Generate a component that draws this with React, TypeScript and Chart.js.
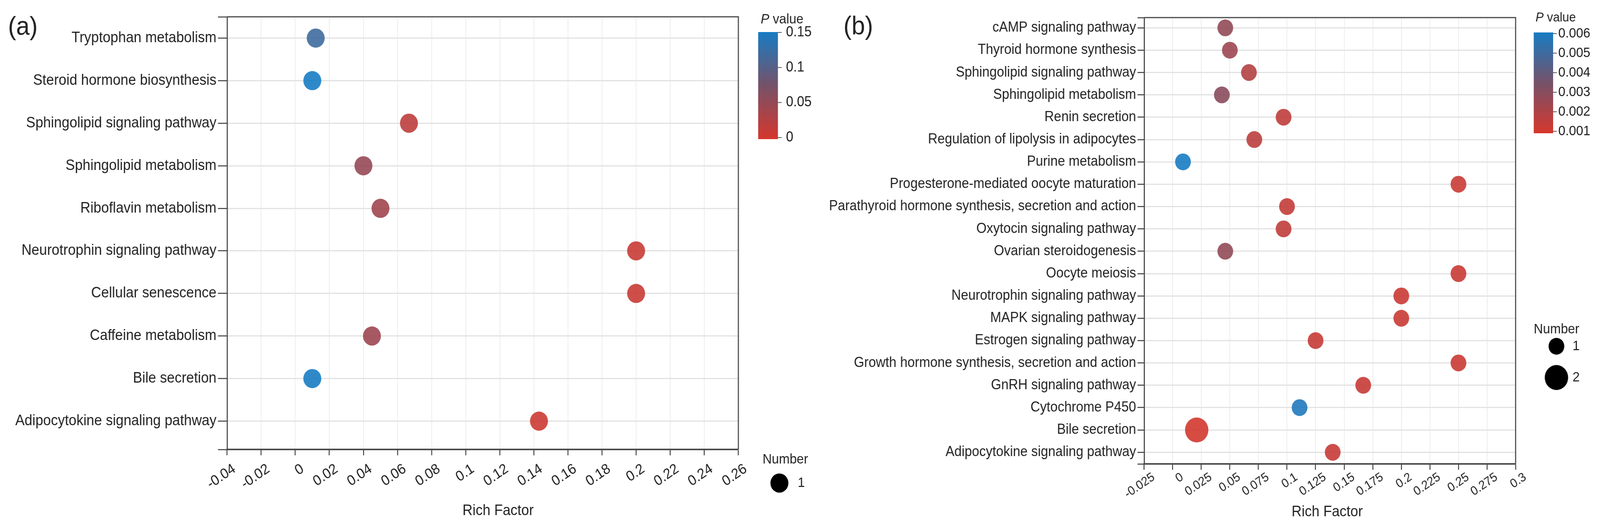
import React, { useEffect, useRef } from 'react';
import { Chart, registerables } from 'chart.js';

Chart.register(...registerables);

const FONT = '"Liberation Sans", Arial, Helvetica, sans-serif';
const TEXT = '#222222';
const AXIS = '#4a4a4a';

// ---------- Panel (a) data ----------
const categoriesA = [
  'Tryptophan metabolism',
  'Steroid hormone biosynthesis',
  'Sphingolipid signaling pathway',
  'Sphingolipid metabolism',
  'Riboflavin metabolism',
  'Neurotrophin signaling pathway',
  'Cellular senescence',
  'Caffeine metabolism',
  'Bile secretion',
  'Adipocytokine signaling pathway',
];
const richFactorA = [0.012, 0.01, 0.0667, 0.04, 0.05, 0.2, 0.2, 0.045, 0.01, 0.143];
const pValueA = [0.12, 0.15, 0.02, 0.05, 0.042, 0.01, 0.01, 0.045, 0.15, 0.008];
const numberA = [1, 1, 1, 1, 1, 1, 1, 1, 1, 1];
const xTicksA = [-0.04, -0.02, 0, 0.02, 0.04, 0.06, 0.08, 0.1, 0.12, 0.14, 0.16, 0.18, 0.2, 0.22, 0.24, 0.26];
const pTicksA = [0, 0.05, 0.1, 0.15];
const sizeTicksA = [1];

// ---------- Panel (b) data ----------
const categoriesB = [
  'cAMP signaling pathway',
  'Thyroid hormone synthesis',
  'Sphingolipid signaling pathway',
  'Sphingolipid metabolism',
  'Renin secretion',
  'Regulation of lipolysis in adipocytes',
  'Purine metabolism',
  'Progesterone-mediated oocyte maturation',
  'Parathyroid hormone synthesis, secretion and action',
  'Oxytocin signaling pathway',
  'Ovarian steroidogenesis',
  'Oocyte meiosis',
  'Neurotrophin signaling pathway',
  'MAPK signaling pathway',
  'Estrogen signaling pathway',
  'Growth hormone synthesis, secretion and action',
  'GnRH signaling pathway',
  'Cytochrome P450',
  'Bile secretion',
  'Adipocytokine signaling pathway',
];
const richFactorB = [0.046, 0.05, 0.0667, 0.043, 0.097, 0.0714, 0.009, 0.25, 0.1, 0.097, 0.046, 0.25, 0.2, 0.2, 0.125, 0.25, 0.1667, 0.111, 0.021, 0.14];
const pValueB = [0.0028, 0.0025, 0.0019, 0.003, 0.0016, 0.0017, 0.006, 0.00135, 0.0015, 0.0016, 0.0028, 0.0013, 0.0013, 0.0013, 0.0014, 0.0013, 0.0014, 0.0058, 0.0011, 0.0014];
const numberB = [1, 1, 1, 1, 1, 1, 1, 1, 1, 1, 1, 1, 1, 1, 1, 1, 1, 1, 2, 1];
const xTicksB = [-0.025, 0, 0.025, 0.05, 0.075, 0.1, 0.125, 0.15, 0.175, 0.2, 0.225, 0.25, 0.275, 0.3];
const pTicksB = [0.001, 0.002, 0.003, 0.004, 0.005, 0.006];
const sizeTicksB = [1, 2];

const X_TITLE = 'Rich Factor';

// ---------- colour scale ----------
const LOW = [214, 55, 45];
const MID = [118, 82, 105];
const HIGH = [24, 124, 195];

function mix(a: number[], b: number[], u: number) {
  return a.map((v, i) => Math.round(v + (b[i] - v) * u));
}
function scaleColor(t: number, alpha = 1) {
  const tt = Math.max(0, Math.min(1, t));
  const c = tt < 0.5 ? mix(LOW, MID, tt * 2) : mix(MID, HIGH, (tt - 0.5) * 2);
  return `rgba(${c[0]},${c[1]},${c[2]},${alpha})`;
}
function colorFor(p: number, ticks: number[]) {
  const lo = ticks[0];
  const hi = ticks[ticks.length - 1];
  return scaleColor((p - lo) / (hi - lo), 0.9);
}

const radiusA = (n: number) => 24.5 * Math.pow(n, 0.57);
const radiusB = (n: number) => 21.5 * Math.pow(n, 0.57);

const fmt = (v: number) => String(+Number(v).toFixed(3));

// ---------- drawing helpers (decoration) ----------
function font(size: number, style = '') {
  return `${style} ${size}px ${FONT}`.trim();
}

function drawFrame(ctx: CanvasRenderingContext2D, area: any) {
  ctx.save();
  ctx.strokeStyle = AXIS;
  ctx.lineWidth = 3;
  ctx.beginPath();
  ctx.moveTo(area.left, area.top);
  ctx.lineTo(area.right, area.top);
  ctx.lineTo(area.right, area.bottom);
  ctx.stroke();
  ctx.restore();
}

function drawText(ctx: CanvasRenderingContext2D, text: string, x: number, y: number, size: number, align: CanvasTextAlign, baseline: CanvasTextBaseline) {
  ctx.save();
  ctx.fillStyle = TEXT;
  ctx.font = font(size);
  ctx.textBaseline = baseline;
  ctx.textAlign = align;
  ctx.fillText(text, x, y);
  ctx.restore();
}

function drawColorbar(ctx: CanvasRenderingContext2D, o: any) {
  const { x, w, top, bottom, yHi, yLo, ticks, labelX, size, titleX, titleY, titleSize } = o;
  ctx.save();
  ctx.fillStyle = TEXT;
  ctx.textBaseline = 'middle';
  ctx.textAlign = 'left';
  ctx.font = font(titleSize, 'italic');
  ctx.fillText('P', titleX, titleY);
  const pw = ctx.measureText('P').width;
  ctx.font = font(titleSize);
  ctx.fillText(' value', titleX + pw, titleY);
  const g = ctx.createLinearGradient(0, bottom, 0, top);
  g.addColorStop(0, scaleColor(0));
  g.addColorStop(0.5, scaleColor(0.5));
  g.addColorStop(1, scaleColor(1));
  ctx.fillStyle = g;
  ctx.fillRect(x, top, w, bottom - top);
  const lo = ticks[0];
  const hi = ticks[ticks.length - 1];
  ctx.strokeStyle = '#555';
  ctx.lineWidth = 2;
  ctx.fillStyle = TEXT;
  ctx.font = font(size);
  ticks.forEach((v: number) => {
    const y = yLo + ((v - lo) / (hi - lo)) * (yHi - yLo);
    ctx.beginPath();
    ctx.moveTo(x + w, y);
    ctx.lineTo(x + w + 10, y);
    ctx.stroke();
    ctx.fillText(fmt(v), labelX, y);
  });
  ctx.restore();
}

function drawSizeLegend(ctx: CanvasRenderingContext2D, o: any) {
  const { titleX, titleY, size, cx, items, labelX } = o;
  ctx.save();
  ctx.fillStyle = TEXT;
  ctx.textBaseline = 'middle';
  ctx.textAlign = 'left';
  ctx.font = font(size);
  ctx.fillText('Number', titleX, titleY);
  items.forEach((it: any) => {
    ctx.fillStyle = '#000';
    ctx.beginPath();
    ctx.arc(cx, it.y, it.r, 0, Math.PI * 2);
    ctx.fill();
    ctx.fillStyle = TEXT;
    ctx.fillText(String(it.n), labelX, it.y);
  });
  ctx.restore();
}

// ---------- chart config builder ----------
function buildConfig(p: any) {
  const { cats, xs, ps, ns, pTicks, xTicks, xMin, xMax, yMin, yMax, radius, yWidth, xHeight, padding, tickLen, catSize, xTickSize, rot, labelOffset, labelPad, deco } = p;
  return {
    type: 'scatter',
    data: {
      datasets: [
        {
          data: xs.map((x: number, i: number) => ({ x, y: i })),
          pointRadius: ns.map((n: number) => radius(n)),
          pointHoverRadius: ns.map((n: number) => radius(n)),
          backgroundColor: ps.map((v: number) => colorFor(v, pTicks)),
          borderWidth: 0,
          pointBorderWidth: 0,
        },
      ],
    },
    options: {
      responsive: false,
      devicePixelRatio: 1,
      animation: false,
      events: [],
      layout: { padding },
      plugins: { legend: { display: false }, tooltip: { enabled: false } },
      scales: {
        x: {
          type: 'linear',
          min: xMin,
          max: xMax,
          afterBuildTicks: (s: any) => {
            s.ticks = xTicks.map((v: number) => ({ value: v }));
          },
          afterFit: (s: any) => {
            s.height = xHeight;
          },
          ticks: {
            autoSkip: false,
            minRotation: rot,
            maxRotation: rot,
            padding: labelPad,
            labelOffset,
            color: TEXT,
            font: { family: FONT, size: xTickSize },
            callback: (v: number) => fmt(v),
          },
          grid: {
            color: '#e6e6e6',
            lineWidth: 1.5,
            tickLength: 15,
            tickColor: '#3a3a3a',
            tickWidth: 2.5,
          },
          border: { display: true, color: AXIS, width: 4 },
          title: { display: false },
        },
        y: {
          type: 'linear',
          reverse: true,
          min: yMin,
          max: yMax,
          afterBuildTicks: (s: any) => {
            s.ticks = [yMin, ...cats.map((_: string, i: number) => i), yMax].map((v: number) => ({ value: v }));
          },
          afterFit: (s: any) => {
            s.width = yWidth;
          },
          ticks: {
            autoSkip: false,
            padding: 4,
            color: TEXT,
            font: { family: FONT, size: catSize },
            callback: (v: number) => (Number.isInteger(v) ? cats[v] : ''),
          },
          grid: {
            color: (c: any) => (c.tick && Number.isInteger(c.tick.value) ? '#e2e2e2' : 'rgba(0,0,0,0)'),
            lineWidth: 3,
            tickLength: tickLen,
            tickColor: '#3a3a3a',
            tickWidth: 2.5,
          },
          border: { display: true, color: AXIS, width: 3 },
        },
      },
    },
    plugins: [deco],
  };
}

const REF_W = 4369;
const H = 1351;
const W_A = 2260;
const W_B = REF_W - W_A;
const OFFB = W_A;

const decoA = {
  id: 'decoA',
  afterDraw(chart: any) {
    const ctx = chart.ctx as CanvasRenderingContext2D;
    drawFrame(ctx, chart.chartArea);
    drawText(ctx, '(a)', 22, 89, 66, 'left', 'alphabetic');
    drawText(ctx, X_TITLE, 1360, 1308, 38, 'center', 'middle');
    drawColorbar(ctx, {
      x: 2070, w: 54, top: 82, bottom: 356, yHi: 83, yLo: 352,
      ticks: pTicksA, labelX: 2146, size: 36, titleX: 2077, titleY: 50, titleSize: 35,
    });
    drawSizeLegend(ctx, {
      titleX: 2082, titleY: 1176, size: 35, cx: 2128, labelX: 2178,
      items: sizeTicksA.map((n, i) => ({ n, y: 1236 + i * 80, r: radiusA(n) })),
    });
  },
};

const decoB = {
  id: 'decoB',
  afterDraw(chart: any) {
    const ctx = chart.ctx as CanvasRenderingContext2D;
    drawFrame(ctx, chart.chartArea);
    drawText(ctx, '(b)', 2303 - OFFB, 88, 66, 'left', 'alphabetic');
    drawText(ctx, X_TITLE, 3624 - OFFB, 1311, 38, 'center', 'middle');
    drawColorbar(ctx, {
      x: 4188 - OFFB, w: 53, top: 83, bottom: 341, yHi: 86, yLo: 336,
      ticks: pTicksB, labelX: 4255 - OFFB, size: 35, titleX: 4193 - OFFB, titleY: 46, titleSize: 33,
    });
    drawSizeLegend(ctx, {
      titleX: 4188 - OFFB, titleY: 843, size: 35, cx: 4250 - OFFB, labelX: 4294 - OFFB,
      items: sizeTicksB.map((n, i) => ({ n, y: 886 + i * 80, r: radiusB(n) })),
    });
  },
};

export default function App() {
  const refA = useRef<HTMLCanvasElement>(null);
  const refB = useRef<HTMLCanvasElement>(null);
  const vw = (typeof window !== 'undefined' && window.innerWidth) || REF_W;
  const vh = (typeof window !== 'undefined' && window.innerHeight) || H;
  const sx = vw / REF_W;
  const sy = vh / H;

  useEffect(() => {
    const chartA = new Chart(refA.current as HTMLCanvasElement, buildConfig({
      cats: categoriesA, xs: richFactorA, ps: pValueA, ns: numberA,
      pTicks: pTicksA, xTicks: xTicksA, xMin: -0.04, xMax: 0.26,
      yMin: -0.5, yMax: 9.665, radius: radiusA,
      yWidth: 620, xHeight: H - 1150,
      padding: { left: 0, top: 43, right: W_A - 2016, bottom: 0 },
      tickLen: 25, catSize: 38, xTickSize: 37, rot: 33, labelOffset: 20, labelPad: 13, deco: decoA,
    }) as any);
    const chartB = new Chart(refB.current as HTMLCanvasElement, buildConfig({
      cats: categoriesB, xs: richFactorB, ps: pValueB, ns: numberB,
      pTicks: pTicksB, xTicks: xTicksB, xMin: -0.025, xMax: 0.3,
      yMin: -0.46, yMax: 19.52, radius: radiusB,
      yWidth: 3124 - OFFB, xHeight: H - 1187,
      padding: { left: 0, top: 45, right: W_B - (4138.5 - OFFB), bottom: 0 },
      tickLen: 18, catSize: 36, xTickSize: 32, rot: 33, labelOffset: 26, labelPad: 0, deco: decoB,
    }) as any);
    return () => {
      chartA.destroy();
      chartB.destroy();
    };
  }, []);

  return (
    <div style={{ position: 'fixed', left: 0, top: 0, width: vw, height: vh, background: '#ffffff', overflow: 'hidden' }}>
      <canvas ref={refA} width={W_A} height={H} style={{ position: 'absolute', left: 0, top: 0, width: W_A * sx, height: H * sy }} />
      <canvas ref={refB} width={W_B} height={H} style={{ position: 'absolute', left: OFFB * sx, top: 0, width: W_B * sx, height: H * sy }} />
    </div>
  );
}
